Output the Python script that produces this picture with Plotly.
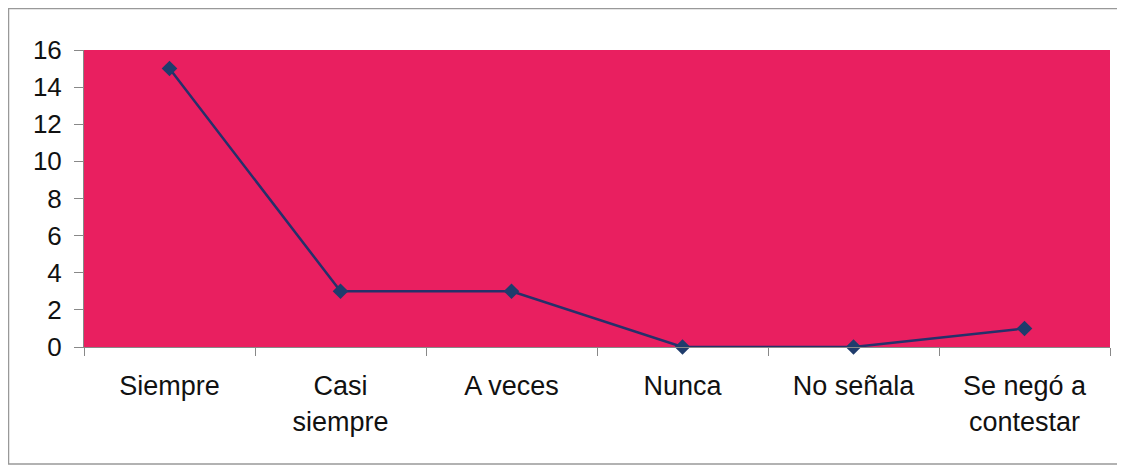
import plotly.graph_objects as go

categories = ["Siempre", "Casi<br>siempre", "A veces", "Nunca", "No señala", "Se negó a<br>contestar"]
values = [15, 3, 3, 0, 0, 1]
y_ticks = [0, 2, 4, 6, 8, 10, 12, 14, 16]

W, H = 1117, 459
L, R, T, B = 76, 15, 42, 120
pw, ph = W - L - R, H - T - B

fig = go.Figure()
fig.add_trace(go.Scatter(
    x=categories, y=values, mode="lines+markers",
    line=dict(color="#26306a", width=2.5),
    marker=dict(symbol="diamond", size=12, color="#1f3c6c"),
    showlegend=False, cliponaxis=False,
))

fig.update_layout(
    width=W, height=H,
    margin=dict(l=L, r=R, t=T, b=B),
    paper_bgcolor="white",
    plot_bgcolor="#e91f60",
    font=dict(family="Liberation Sans, Arial, sans-serif", color="#111111"),
    xaxis=dict(
        type="category", range=[-0.5, 5.5], tickson="boundaries",
        ticks="outside", ticklen=8, tickcolor="#888888", tickwidth=1,
        showgrid=False, showline=True, linecolor="#888888", linewidth=1,
        tickfont=dict(size=27), ticklabelstandoff=15, fixedrange=True,
    ),
    yaxis=dict(
        range=[0, 16], tickvals=y_ticks, ticks="outside", ticklen=9,
        tickcolor="#888888", tickwidth=1, showgrid=False,
        showline=True, linecolor="#888888", linewidth=1,
        tickfont=dict(size=26), zeroline=False, ticklabelstandoff=7,
    ),
    shapes=[dict(
        type="rect", xref="paper", yref="paper",
        x0=(0.5 - L) / pw, x1=(1110 - L) / pw,
        y0=-(456 - T - ph) / ph, y1=(T + ph - 0.5) / ph,
        line=dict(color="#999999", width=1.5), fillcolor="rgba(0,0,0,0)",
        layer="below",
    )],
)

fig.write_html("out.html")
